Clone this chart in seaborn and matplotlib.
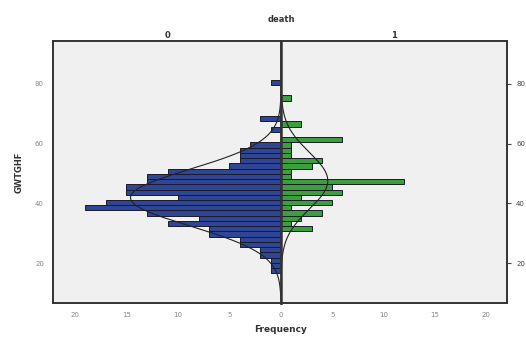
import numpy as np
import pandas as pd
import matplotlib
matplotlib.use("Agg")
import matplotlib.pyplot as plt
import seaborn as sns

# GWTGHF bin centres and frequencies, read from the pyramid
alive_centers = [17.5, 19.25, 21, 22.75, 24.5, 26.25, 28, 29.75, 31.5, 33.25,
                 35, 36.75, 38.5, 40.25, 42, 43.75, 45.5, 47.25, 49, 50.75,
                 52.5, 54.25, 56, 57.75, 59.5, 64.75, 68.25, 80.5]
alive_counts = [1, 1, 1, 2, 2, 4, 4, 7, 7, 11,
                8, 13, 19, 17, 10, 15, 15, 13, 13, 11,
                5, 4, 4, 4, 3, 1, 2, 1]

dead_centers = [31.5, 33.25, 35, 36.75, 38.5, 40.25, 42, 43.75, 45.5, 47.25,
                49, 50.75, 52.5, 54.25, 56, 57.75, 59.5, 61.25, 66.5, 75.25]
dead_counts = [3, 1, 2, 4, 1, 5, 2, 6, 5, 12,
               1, 1, 3, 4, 1, 1, 1, 6, 2, 1]

x_ticks = [0, 5, 10, 15, 20]
y_ticks = [20, 40, 60, 80]

BIN = 1.75
BLUE = "#2f4596"
GREEN = "#3d9e3d"

sns.set_style("white")

fig = plt.figure(figsize=(5.26, 3.4), dpi=100)
ax_l = fig.add_axes([0.1008, 0.109, 0.4335, 0.7705])
ax_r = fig.add_axes([0.5343, 0.109, 0.4297, 0.7705], sharey=ax_l)

yy = np.linspace(8, 94, 400)
panels = [(ax_l, alive_centers, alive_counts, BLUE, "0"),
          (ax_r, dead_centers, dead_counts, GREEN, "1")]

for ax, centers, counts, color, lab in panels:
    df = pd.DataFrame({"GWTGHF": centers, "n": counts})
    sns.histplot(data=df, y="GWTGHF", weights="n", binwidth=BIN,
                 binrange=(16.625, 81.375), color=color, alpha=1,
                 edgecolor="#1a1a2a", linewidth=0.7, ax=ax)
    vals = np.repeat(centers, counts)
    mu, sd = vals.mean(), vals.std(ddof=1)
    curve = len(vals) * BIN * np.exp(-0.5 * ((yy - mu) / sd) ** 2) / (sd * np.sqrt(2 * np.pi))
    sns.lineplot(x=curve, y=yy, orient="y", color="#222222", lw=0.8, ax=ax)
    ax.set_facecolor("#f0f0f0")
    ax.set_ylim(6.7, 94.3)
    ax.set_xlabel("")
    ax.set_ylabel("")
    ax.set_title(lab, fontsize=6, fontweight="bold", color="#333333", pad=2)
    for s in ax.spines.values():
        s.set_linewidth(1.4)
        s.set_color("#333333")
    ax.tick_params(axis="both", labelsize=5, colors="#444444", length=3,
                   width=0.8, direction="out")
    for t in ax.get_xticklabels() + ax.get_yticklabels():
        t.set_color("#888888")

ax_l.set_xlim(22.1, 0)
ax_r.set_xlim(0, 22.1)
ax_l.set_xticks(x_ticks)
ax_r.set_xticks(x_ticks[1:])
ax_l.set_yticks(y_ticks)
ax_r.yaxis.tick_right()
ax_r.tick_params(axis="y", labelright=True, labelleft=False)
ax_l.spines["right"].set_linewidth(1.8)
ax_r.spines["left"].set_linewidth(1.8)

ax_l.set_ylabel("GWTGHF", fontsize=6, fontweight="bold", color="#333333", labelpad=8)
fig.text(0.534, 0.025, "Frequency", ha="center", fontsize=6.5, fontweight="bold", color="#333333")
fig.text(0.534, 0.935, "death", ha="center", fontsize=6, fontweight="bold", color="#333333")

fig.savefig("out.png", dpi=100)
